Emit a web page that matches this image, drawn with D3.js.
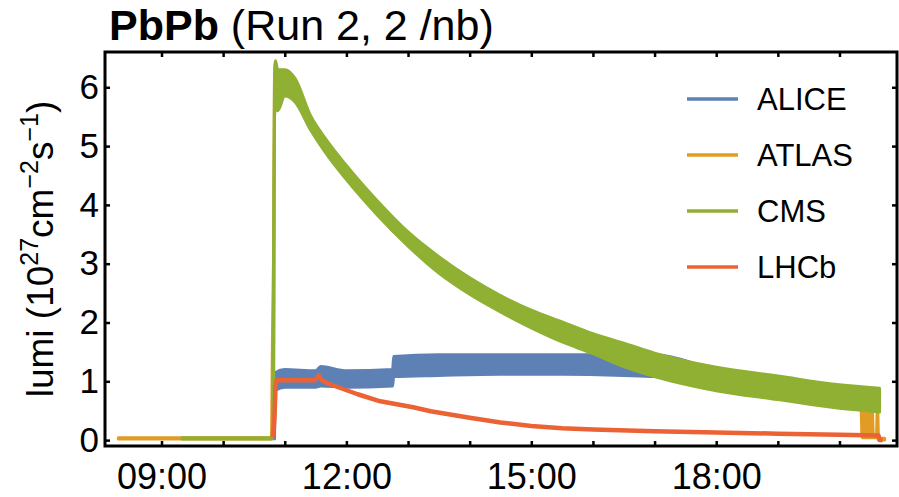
<!DOCTYPE html>
<html>
<head>
<meta charset="utf-8">
<script src="https://cdn.jsdelivr.net/npm/d3@7"></script>
<style>
  body { margin: 0; background: #fff; }
  svg text { font-family: "Liberation Sans", Arial, sans-serif; fill: #000; }
</style>
</head>
<body>
<div id="vis"></div>
<script>
// ---- data (time of day, lumi in 10^27 cm^-2 s^-1) ----
var seriesNames = ["ALICE", "ATLAS", "CMS", "LHCb"];
var seriesColours = ["#5e81b5", "#e19c24", "#8fb032", "#eb6235"];

var hourTicks = ["09:00", "10:00", "11:00", "12:00", "13:00", "14:00", "15:00",
  "16:00", "17:00", "18:00", "19:00", "20:00"];
var hourLabels = ["09:00", "12:00", "15:00", "18:00"];
var lumiTicks = [0, 1, 2, 3, 4, 5, 6];

// ALICE: noisy band, low / high edge
var aliceTime = ["10:50", "10:51", "11:00", "11:30", "11:35", "12:00", "12:45", "12:46",
  "13:30", "14:30", "15:30", "16:30", "17:00", "18:00", "19:00", "20:00", "20:39"];
var aliceLow = [0.02, 0.85, 0.9, 0.9, 0.92, 0.9, 0.92, 1.08,
  1.1, 1.12, 1.12, 1.1, 1.08, 0.86, 0.71, 0.56, 0.5];
var aliceHigh = [0.04, 1.15, 1.2, 1.18, 1.25, 1.18, 1.2, 1.42,
  1.45, 1.45, 1.45, 1.45, 1.45, 1.2, 1.05, 0.9, 0.84];

// ATLAS
var atlasTime = ["08:18", "10:47", "10:48", "10:49", "10:50", "10:51", "10:53", "11:00",
  "11:10", "11:25", "11:40", "12:00", "12:30", "13:00", "13:30", "14:00", "14:30",
  "15:00", "15:30", "16:00", "16:30", "17:00", "18:00", "19:00", "20:00", "20:21",
  "20:22", "20:32", "20:33", "20:36", "20:37", "20:38", "20:44"];
var atlasLow = [0.02, 0.02, 0.3, 0.4, 5.5, 5.72, 5.62, 5.87,
  5.77, 5.3, 4.9, 4.45, 3.85, 3.32, 2.86, 2.5, 2.2,
  1.93, 1.69, 1.49, 1.27, 1.1, 0.86, 0.71, 0.56, 0.53,
  0.04, 0.04, 0.04, 0.04, 0.04, 0.0, 0.0];
var atlasHigh = [0.04, 0.04, 1.7, 3.0, 6.18, 6.42, 6.27, 6.27,
  6.12, 5.5, 5.1, 4.65, 4.05, 3.52, 3.1, 2.74, 2.44,
  2.19, 1.99, 1.79, 1.63, 1.46, 1.22, 1.07, 0.92, 0.87,
  0.5, 0.5, 0.08, 0.08, 0.75, 0.03, 0.03];

// CMS
var cmsTime = ["09:20", "10:48", "10:49", "10:50", "10:51", "10:53", "11:00", "11:10",
  "11:25", "11:40", "12:00", "12:30", "13:00", "13:30", "14:00", "14:30", "15:00",
  "15:30", "16:00", "16:30", "17:00", "18:00", "19:00", "20:00", "20:39"];
var cmsLow = [0.02, 0.02, 0.3, 5.5, 5.7, 5.6, 5.85, 5.75,
  5.28, 4.88, 4.43, 3.83, 3.3, 2.84, 2.48, 2.18, 1.91,
  1.67, 1.47, 1.25, 1.08, 0.84, 0.69, 0.54, 0.48];
var cmsHigh = [0.04, 0.04, 3.0, 6.2, 6.45, 6.3, 6.3, 6.15,
  5.52, 5.12, 4.67, 4.07, 3.54, 3.12, 2.76, 2.46, 2.21,
  2.01, 1.81, 1.65, 1.48, 1.24, 1.09, 0.94, 0.88];

// LHCb: thin line
var lhcbTime = ["10:48", "10:49", "10:50", "10:51", "10:52", "11:30", "11:33", "11:36",
  "11:44", "12:11", "12:33", "13:05", "13:22", "14:00", "14:30", "15:00", "15:30",
  "16:00", "17:00", "18:00", "19:00", "20:00", "20:38", "20:39", "20:42"];
var lhcbValue = [0.05, 0.1, 0.4, 0.9, 1.02, 1.02, 1.1, 1.02,
  0.95, 0.78, 0.66, 0.56, 0.49, 0.38, 0.3, 0.24, 0.2,
  0.18, 0.15, 0.13, 0.11, 0.09, 0.08, 0.0, 0.0];

// ---- layout ----
var width = 899, height = 497;
var plot = { left: 105, right: 897, top: 52, bottom: 446 };

var parseTime = d3.timeParse("%H:%M");
var fmtTime = d3.timeFormat("%H:%M");

var svg = d3.select('#vis')
  .append('svg')
  .attr('width', width)
  .attr('height', height);

var x_scale = d3.scaleTime()
  .domain([parseTime("08:05"), parseTime("20:56")])
  .range([plot.left, plot.right]);

var y_scale = d3.scaleLinear()
  .domain([-0.1, 6.6])
  .range([plot.bottom, plot.top]);

svg.append('clipPath')
  .attr('id', 'clip')
  .append('rect')
  .attr('x', plot.left)
  .attr('y', plot.top)
  .attr('width', plot.right - plot.left)
  .attr('height', plot.bottom - plot.top);

var bandArea = d3.area()
  .x(function(d) { return x_scale(d.t); })
  .y0(function(d) { return y_scale(d.lo); })
  .y1(function(d) { return y_scale(d.hi); })
  .curve(d3.curveMonotoneX);

var valueLine = d3.line()
  .x(function(d) { return x_scale(d.t); })
  .y(function(d) { return y_scale(d.v); });

function band(times, lows, highs) {
  return times.map(function(t, i) {
    return { t: parseTime(t), lo: lows[i], hi: highs[i] };
  });
}

var marks = svg.append('g').attr('clip-path', 'url(#clip)');

var bands = [
  band(aliceTime, aliceLow, aliceHigh),
  band(atlasTime, atlasLow, atlasHigh),
  band(cmsTime, cmsLow, cmsHigh)
];

bands.forEach(function(data, i) {
  marks.append('path')
    .datum(data)
    .attr('d', bandArea)
    .attr('fill', seriesColours[i])
    .attr('stroke', seriesColours[i])
    .attr('stroke-width', 3)
    .attr('stroke-linejoin', 'round');
});

var lhcbData = lhcbTime.map(function(t, i) {
  return { t: parseTime(t), v: lhcbValue[i] };
});

marks.append('path')
  .datum(lhcbData)
  .attr('d', valueLine)
  .attr('fill', 'none')
  .attr('stroke', seriesColours[3])
  .attr('stroke-width', 4.5)
  .attr('stroke-linejoin', 'round');

// ---- axes (ticks point inwards on all four sides) ----
var tickDates = hourTicks.map(parseTime);

var x_axis = d3.axisBottom(x_scale)
  .tickValues(tickDates)
  .tickSize(-5)
  .tickPadding(17)
  .tickFormat(function(d) {
    var s = fmtTime(d);
    return hourLabels.indexOf(s) >= 0 ? s : "";
  });

var y_axis = d3.axisLeft(y_scale)
  .tickValues(lumiTicks)
  .tickSize(-5)
  .tickPadding(6)
  .tickFormat(d3.format('d'));

svg.append('g')
  .attr('class', 'x axis')
  .attr('transform', 'translate(0,' + plot.bottom + ')')
  .call(x_axis);

svg.append('g')
  .attr('class', 'x axis top')
  .attr('transform', 'translate(0,' + plot.top + ')')
  .call(d3.axisTop(x_scale).tickValues(tickDates).tickSize(-5).tickFormat(''));

svg.append('g')
  .attr('class', 'y axis')
  .attr('transform', 'translate(' + plot.left + ',0)')
  .call(y_axis);

svg.append('g')
  .attr('class', 'y axis right')
  .attr('transform', 'translate(' + plot.right + ',0)')
  .call(d3.axisRight(y_scale).tickValues(lumiTicks).tickSize(-5).tickFormat(''));

svg.selectAll('.axis .domain').remove();
svg.selectAll('.axis .tick line')
  .attr('stroke', '#000')
  .attr('stroke-width', 2.5);
svg.selectAll('.x.axis .tick text')
  .style('font-size', '36px');
svg.selectAll('.y.axis .tick text')
  .style('font-size', '35px');

svg.append('rect')
  .attr('x', plot.left)
  .attr('y', plot.top)
  .attr('width', plot.right - plot.left)
  .attr('height', plot.bottom - plot.top)
  .attr('fill', 'none')
  .attr('stroke', '#000')
  .attr('stroke-width', 3);

// ---- y label with superscripts ----
var ylab = svg.append('text')
  .attr('transform', 'translate(53,' + ((plot.top + plot.bottom) / 2) + ')rotate(-90)')
  .attr('text-anchor', 'middle')
  .style('font-size', '37px');
ylab.append('tspan').text('lumi (10');
ylab.append('tspan').attr('dy', -15).style('font-size', '25px').text('27');
ylab.append('tspan').attr('dy', 15).text('cm');
ylab.append('tspan').attr('dy', -15).style('font-size', '25px').text('\u22122');
ylab.append('tspan').attr('dy', 15).text('s');
ylab.append('tspan').attr('dy', -15).style('font-size', '25px').text('\u22121');
ylab.append('tspan').attr('dy', 15).text(')');

// ---- title ----
var title = svg.append('text')
  .attr('x', 109)
  .attr('y', 40)
  .style('font-size', '43px');
title.append('tspan').style('font-weight', 'bold').text('PbPb');
title.append('tspan').text(' (Run 2, 2 /nb)');

// ---- legend ----
var legend = svg.append('g')
  .selectAll('g')
  .data(seriesNames)
  .enter()
  .append('g')
  .attr('transform', function(d, i) { return 'translate(687,' + (99 + i * 56) + ')'; });

legend.append('line')
  .attr('x1', 0)
  .attr('x2', 51)
  .attr('stroke', function(d, i) { return seriesColours[i]; })
  .attr('stroke-width', 3.5);

legend.append('text')
  .attr('x', 70)
  .attr('dy', '0.36em')
  .style('font-size', '31px')
  .text(function(d) { return d; });
</script>
</body>
</html>
